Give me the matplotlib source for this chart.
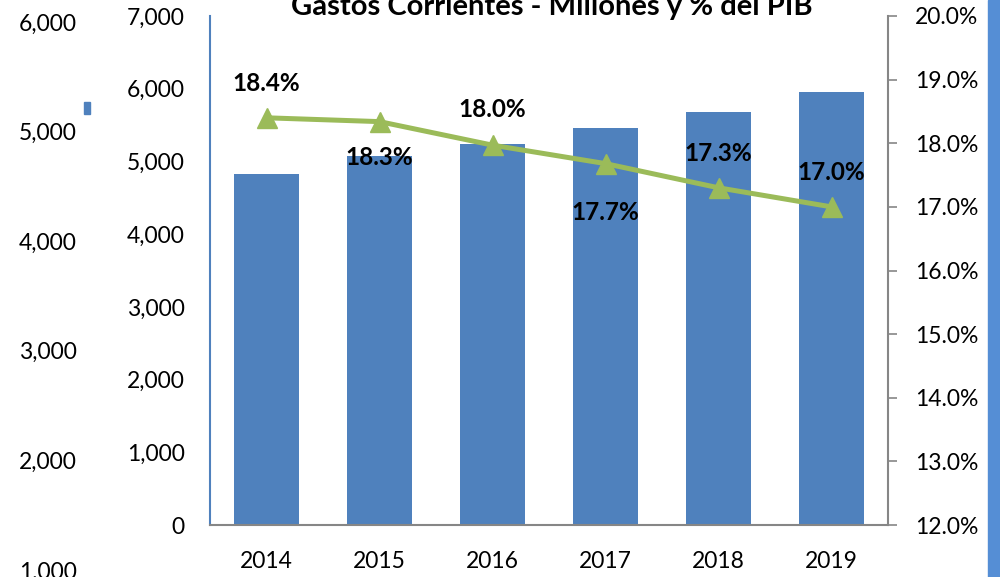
import matplotlib.pyplot as plt
from matplotlib.patches import Rectangle
from matplotlib.ticker import FuncFormatter, MultipleLocator

#%% data
years = ['2014', '2015', '2016', '2017', '2018', '2019']
gasto_mill = [4830, 5070, 5240, 5460, 5680, 5950]
gasto_pib = [18.4, 18.34, 17.97, 17.68, 17.3, 17.0]
extra_ticks = [1000, 2000, 3000, 4000, 5000, 6000]

# label offsets (points) above/below each marker
lbl_off = [25, -26, 26, -35, 25, 25]

plt.rcParams['font.family'] = ['Lato', 'DejaVu Sans']

bar_color = '#4F81BD'
line_color = '#9BBB59'
gray = '#868686'

fig = plt.figure(figsize=(10, 5.77), dpi=100)

#%% main axis
ax = fig.add_axes([0.21, 1 - 525 / 577, 0.678, (525 - 16) / 577])
x = range(len(years))
ax.bar(x, gasto_mill, width=0.575, color=bar_color, zorder=2)
ax.set_xlim(-0.5, len(years) - 0.5)
ax.set_ylim(0, 7000)
ax.yaxis.set_major_locator(MultipleLocator(1000))
ax.yaxis.set_major_formatter(FuncFormatter(lambda v, p: f'{v:,.0f}'))
ax.set_xticks(list(x))
ax.set_xticklabels(years)
ax.tick_params(axis='y', length=0, pad=18, labelsize=16.5)
ax.tick_params(axis='x', length=0, pad=19, labelsize=16.5)
for s in ['top', 'right']:
    ax.spines[s].set_visible(False)
ax.spines['left'].set_color(bar_color)
ax.spines['left'].set_linewidth(1.5)
ax.spines['bottom'].set_color(gray)
ax.spines['bottom'].set_linewidth(1.5)

#%% % del PIB
ax2 = ax.twinx()
ax2.plot(x, gasto_pib, color=line_color, lw=3.6, marker='^', ms=15, zorder=3)
ax2.set_ylim(12, 20)
ax2.yaxis.set_major_locator(MultipleLocator(1))
ax2.yaxis.set_major_formatter(FuncFormatter(lambda v, p: f'{v:.1f}%'))
ax2.tick_params(axis='y', length=6.5, width=1.2, color=gray, pad=13, labelsize=16.5)
for s in ['top', 'left', 'bottom']:
    ax2.spines[s].set_visible(False)
ax2.spines['right'].set_color(gray)
ax2.spines['right'].set_linewidth(1.5)

for i, v in enumerate(gasto_pib):
    ax2.annotate(f'{v:.1f}%', (i, v), xytext=(0, lbl_off[i]), textcoords='offset points',
                 ha='center', va='center', fontsize=17.5, fontweight='bold')

#%% leftover axis on the far left
ax0 = fig.add_axes([0.077, 0, 0.001, 1])
ax0.set_ylim(936, 6201)
ax0.set_yticks(extra_ticks)
ax0.yaxis.set_major_formatter(FuncFormatter(lambda v, p: f'{v:,.0f}'))
ax0.tick_params(axis='y', length=0, pad=0, labelsize=16.5)
ax0.set_xticks([])
for s in ax0.spines.values():
    s.set_visible(False)
ax0.patch.set_visible(False)

# small key square and right strip
fig.add_artist(Rectangle((0.084, 1 - 114 / 577), 0.006, 12 / 577,
                         transform=fig.transFigure, color=bar_color))
fig.add_artist(Rectangle((0.988, 0), 0.012, 1, transform=fig.transFigure, color='#558ED5'))

# title
fig.text(0.552, 1 - 15 / 577, 'Gastos Corrientes - Millones y % del PIB',
         ha='center', va='baseline', fontsize=21, fontweight='bold')

fig.savefig('out.png', dpi=100)
